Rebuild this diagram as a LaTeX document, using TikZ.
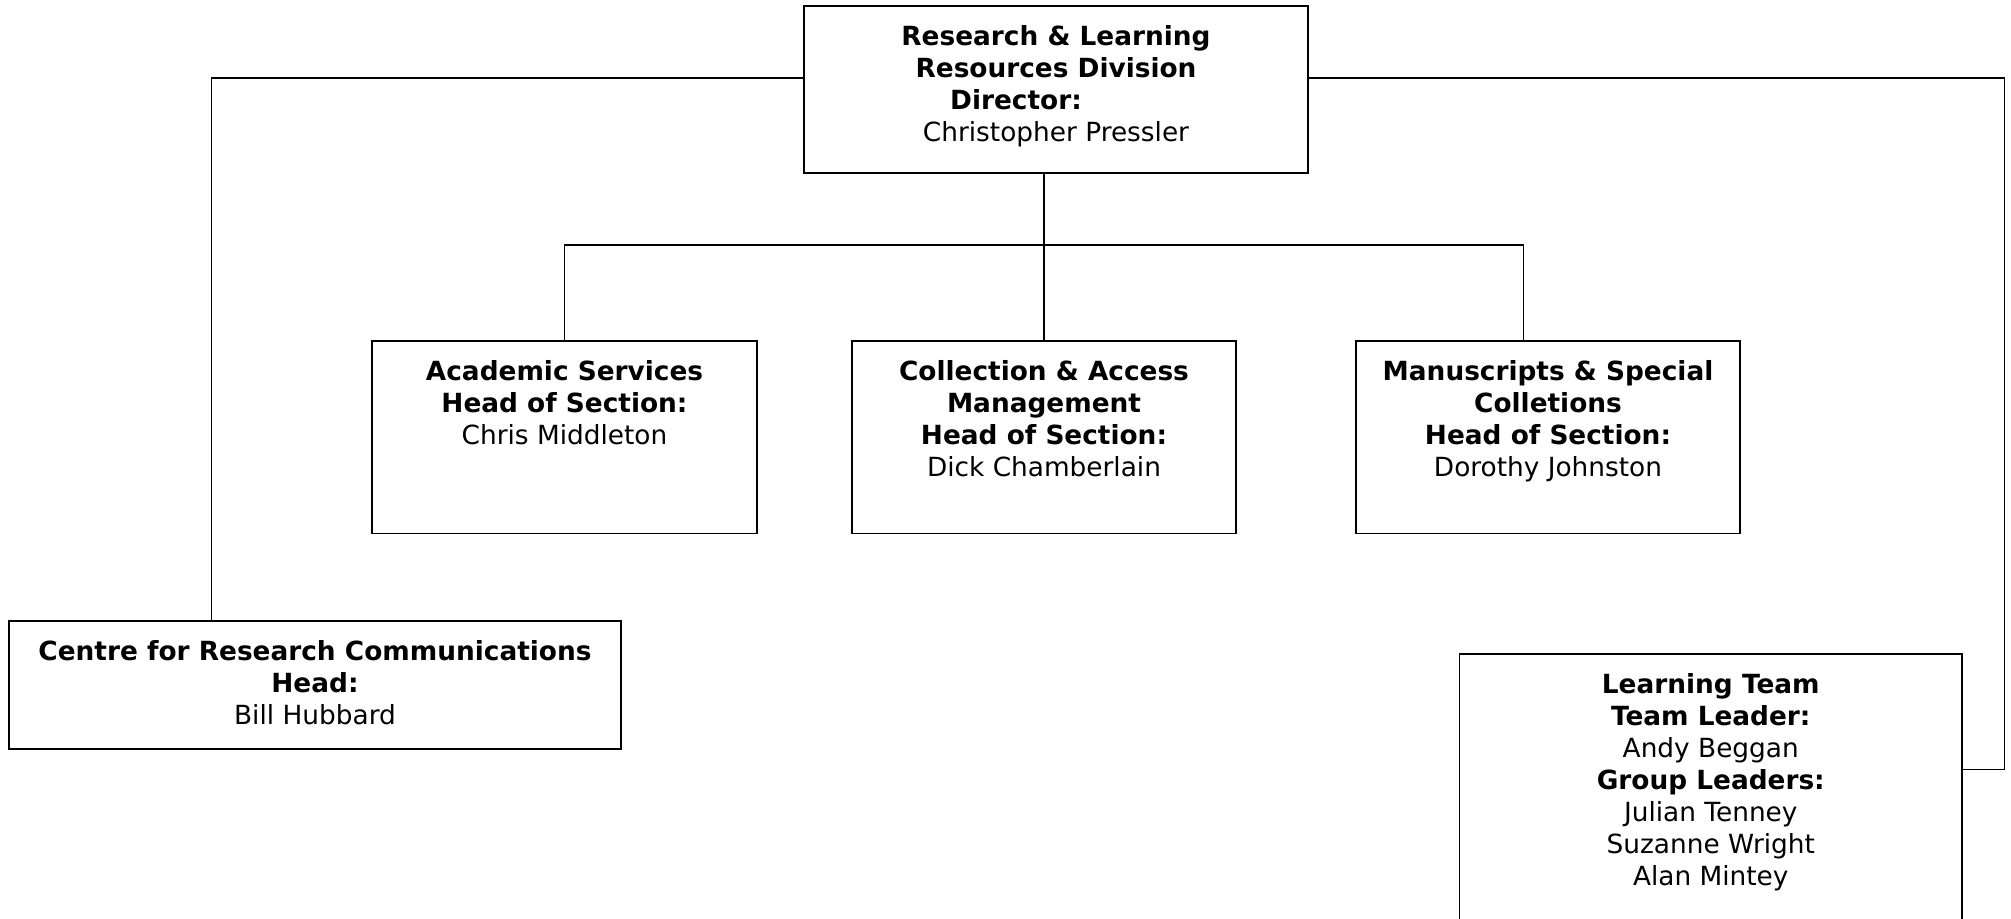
\documentclass[tikz,border=0pt]{standalone}
\usepackage{fontspec}
\setmainfont{DejaVu Sans}
\usetikzlibrary{positioning,calc}

\tikzset{
  unit/.style={draw,line width=0.9pt,inner sep=0pt},
  unittext/.style={anchor=north,align=center,inner sep=0pt,yshift=-0.40cm,
    font=\fontsize{15}{18.2}\selectfont},
  link/.style={line width=0.9pt}
}

\begin{document}
\begin{tikzpicture}
    \useasboundingbox (0,0) rectangle (40.22,-18.36);
    % division
    \node[unit,minimum width=10.08cm,minimum height=3.34cm,
      label={[unittext]north:\textbf{Research \& Learning}\\\textbf{Resources Division}\\\textbf{Director:}\rule{1.6cm}{0pt}\\Christopher Pressler}]
      (division) at (21.12,-1.79) {};
    % sections
    \node[unit,minimum width=7.70cm,minimum height=3.85cm,
      label={[unittext]north:\textbf{Academic Services}\\\textbf{Head of Section:}\\Chris Middleton}]
      (academic) at (11.29,-8.745) {};
    \node[unit,minimum width=7.68cm,minimum height=3.85cm,
      label={[unittext]north:\textbf{Collection \& Access}\\\textbf{Management}\\\textbf{Head of Section:}\\Dick Chamberlain}]
      (collection) at (20.88,-8.745) {};
    \node[unit,minimum width=7.68cm,minimum height=3.85cm,
      label={[unittext]north:\textbf{Manuscripts \& Special}\\\textbf{Colletions}\\\textbf{Head of Section:}\\Dorothy Johnston}]
      (manuscripts) at (30.96,-8.745) {};
    % centre and learning team
    \node[unit,minimum width=12.24cm,minimum height=2.56cm,
      label={[unittext]north:\textbf{Centre for Research Communications}\\\textbf{Head:}\\Bill Hubbard}]
      (centre) at (6.30,-13.70) {};
    \node[unit,minimum width=10.05cm,minimum height=5.52cm,
      label={[unittext]north:\textbf{Learning Team}\\\textbf{Team Leader:}\\Andy Beggan\\\textbf{Group Leaders:}\\Julian Tenney\\Suzanne Wright\\Alan Mintey}]
      (learning) at (34.215,-15.84) {};

    \coordinate (leftjoin) at (4.23,-1.56);
    \coordinate (rightjoin) at (40.09,-15.39);
    \coordinate (busjoin) at (30.47,-4.90);

    \draw[link] (division.west |- leftjoin) -| (centre.north -| leftjoin);
    \draw[link] (division.east |- leftjoin) -| (rightjoin) -- (learning.east |- rightjoin);
    \draw[link] (division.south -| collection.north) -- (collection.north);
    \draw[link] (academic.north) |- (busjoin) -- (manuscripts.north -| busjoin);
  \end{tikzpicture}
\end{document}
